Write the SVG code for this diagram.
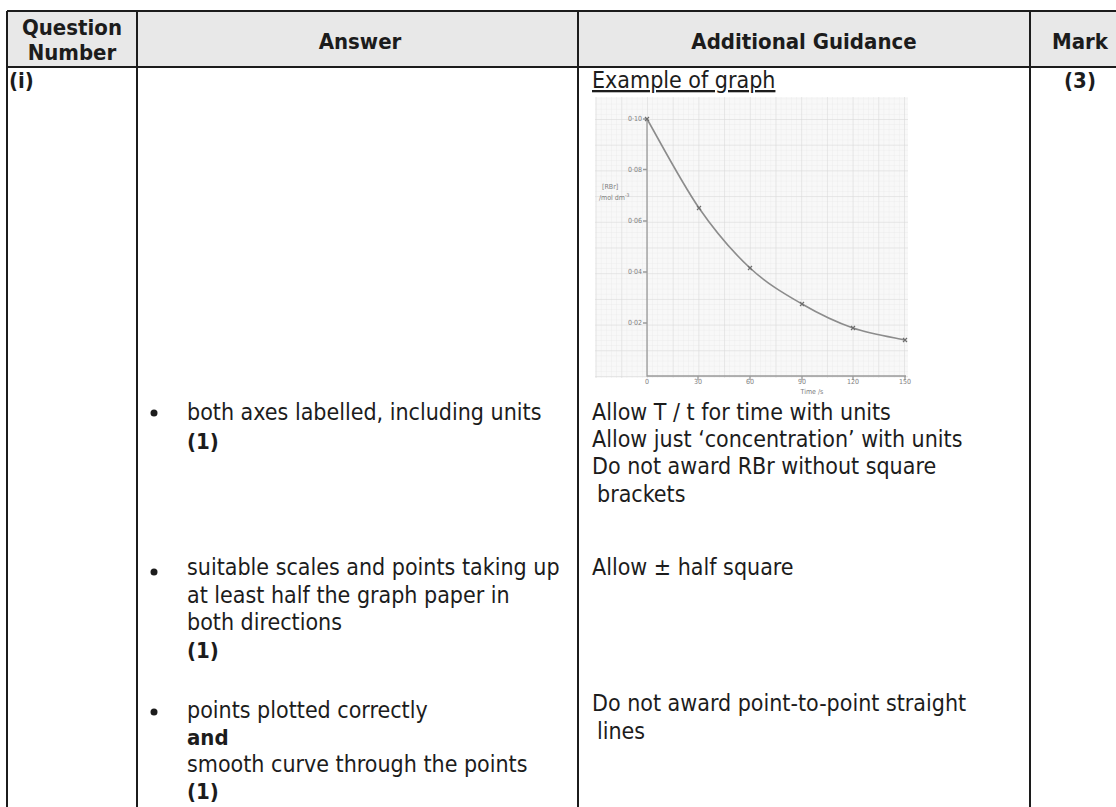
<svg xmlns="http://www.w3.org/2000/svg" width="1116" height="807" viewBox="0 0 1116 807">
<style>
.t{font-family:"DejaVu Sans Condensed","DejaVu Sans",sans-serif;font-size:23px;fill:#1c1c1c}
.b{font-weight:bold}
.h{font-size:22px}
.m{text-anchor:middle}
.rule{stroke:#1c1c1c;stroke-width:2;fill:none}
.hw{font-family:"DejaVu Sans Condensed","DejaVu Sans",sans-serif;font-size:7px;fill:#808080}
.ax{stroke:#9a9a9a;stroke-width:1.3;fill:none}
.crv{stroke:#8c8c8c;stroke-width:1.6;fill:none}
.pt{stroke:#6e6e6e;stroke-width:1.2}
</style>
<defs>
<pattern id="minor" patternUnits="userSpaceOnUse" x="647" y="376" width="5.14" height="5.14">
<path d="M0 0H5.14M0 0V5.14" stroke="#e8e8e8" stroke-width="0.7" fill="none"/>
</pattern>
<pattern id="major" patternUnits="userSpaceOnUse" x="647" y="376" width="25.7" height="25.7">
<path d="M0 0H25.7M0 0V25.7" stroke="#d6d6d6" stroke-width="0.9" fill="none"/>
</pattern>
</defs>
<rect width="1116" height="807" fill="#ffffff"/>

<g id="table-frame">
<rect x="7" y="11" width="1109" height="56" fill="#e8e8e8"/>
<path class="rule" d="M7 11H1116M7 67H1116M7 11V807M137 11V807M578 11V807M1030 11V807"/>
</g>

<g id="header">
<text class="t b h m" x="72" y="35">Question</text>
<text class="t b h m" x="72" y="60">Number</text>
<text class="t b h m" x="360" y="49">Answer</text>
<text class="t b h m" x="804" y="49">Additional Guidance</text>
<text class="t b h m" x="1080" y="49">Mark</text>
</g>

<g id="question-number">
<text class="t b h" x="9" y="88">(i)</text>
</g>

<g id="mark">
<text class="t b h m" x="1080" y="88">(3)</text>
</g>

<g id="answer">
<circle cx="154" cy="413" r="3.5" fill="#1c1c1c"/>
<text class="t" x="187" y="420">both axes labelled, including units</text>
<text class="t b h" x="187" y="449">(1)</text>
<circle cx="154" cy="572" r="3.5" fill="#1c1c1c"/>
<text class="t" x="187" y="575">suitable scales and points taking up</text>
<text class="t" x="187" y="603">at least half the graph paper in</text>
<text class="t" x="187" y="630">both directions</text>
<text class="t b h" x="187" y="658">(1)</text>
<circle cx="154" cy="712" r="3.5" fill="#1c1c1c"/>
<text class="t" x="187" y="718">points plotted correctly</text>
<text class="t b h" x="187" y="745">and</text>
<text class="t" x="187" y="772">smooth curve through the points</text>
<text class="t b h" x="187" y="799">(1)</text>
</g>

<g id="guidance">
<text class="t" x="592" y="88" text-decoration="underline">Example of graph</text>
<text class="t" x="592" y="420">Allow T / t for time with units</text>
<text class="t" x="592" y="447">Allow just ‘concentration’ with units</text>
<text class="t" x="592" y="474">Do not award RBr without square</text>
<text class="t" x="597" y="502">brackets</text>
<text class="t" x="592" y="575">Allow ± half square</text>
<text class="t" x="592" y="711">Do not award point-to-point straight</text>
<text class="t" x="597" y="739">lines</text>
</g>

<g id="example-graph">
<rect x="595" y="97" width="313" height="281" fill="#f8f8f8"/>
<rect x="595" y="97" width="313" height="281" fill="url(#minor)"/>
<rect x="595" y="97" width="313" height="281" fill="url(#major)"/>
<path class="ax" d="M647 119V376H906"/>
<path class="ax" d="M643 119H647M643 169.5H647M643 221H647M643 272H647M643 323H647M698 376V380M750 376V380M802 376V380M853 376V380M905 376V380"/>
<text class="hw" x="628" y="121">0·10</text>
<text class="hw" x="628" y="172">0·08</text>
<text class="hw" x="628" y="223">0·06</text>
<text class="hw" x="628" y="274">0·04</text>
<text class="hw" x="628" y="325">0·02</text>
<text class="hw m" x="647" y="384">0</text>
<text class="hw m" x="698" y="384">30</text>
<text class="hw m" x="750" y="384">60</text>
<text class="hw m" x="802" y="384">90</text>
<text class="hw m" x="853" y="384">120</text>
<text class="hw m" x="905" y="384">150</text>
<text class="hw m" x="812" y="394">Time /s</text>
<text class="hw" x="602" y="189">[RBr]</text>
<text class="hw" x="599" y="200">/mol dm<tspan font-size="5" dy="-3">-3</tspan></text>
<path class="crv" d="M647 119C655.7 133.8 681.8 183.2 699 208C716.2 232.8 732.8 252 750 268C767.2 284 784.8 294 802 304C819.2 314 835.8 322 853 328C870.2 334 896.3 338 905 340"/>
<path class="pt" d="M645 117l4 4m0-4l-4 4M697 206l4 4m0-4l-4 4M748 266l4 4m0-4l-4 4M800 302l4 4m0-4l-4 4M851 326l4 4m0-4l-4 4M903 338l4 4m0-4l-4 4"/>
</g>
</svg>
